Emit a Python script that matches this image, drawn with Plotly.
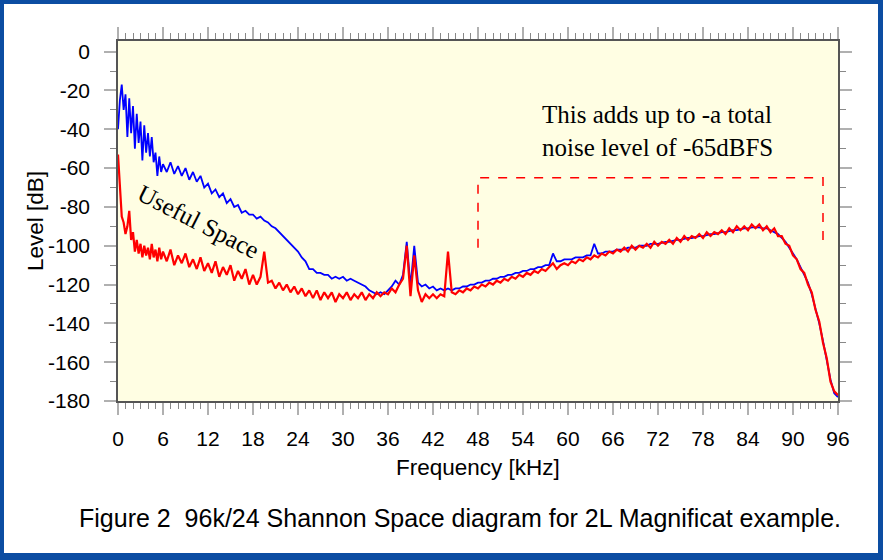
import numpy as np
import plotly.graph_objects as go

# ---------------- data ----------------
# frequency grid: 0.25 kHz steps from 0 to 5.75, then 0.5 kHz steps from 6 to 96
freq_fine = [i * 0.25 for i in range(24)]
freq_coarse = [6 + i * 0.5 for i in range(181)]
freq_khz = freq_fine + freq_coarse

blue_fine = [-40, -25, -17, -30, -22, -44, -24, -42, -28, -50, -32, -47,
             -36, -56, -38, -52, -42, -54, -44, -57, -52, -64, -54, -62]
blue_coarse = [
    -58, -62, -57, -63, -59, -64, -60, -66, -62, -67, -64, -70,
    -68, -73, -71, -75, -73, -78, -76, -80, -79, -83, -82, -84,
    -84, -86, -85, -87, -88, -90, -91, -93, -95, -97, -99, -101,
    -103, -106, -108, -112, -112, -114, -114, -115, -115, -117, -116, -117,
    -116, -118, -117, -118, -119, -120, -121, -123, -124, -125, -124, -125,
    -123, -121, -118, -120, -115, -98, -121, -100, -119, -121, -120, -122,
    -121, -123, -122, -123, -122, -123, -122, -122, -121, -121, -120, -120,
    -119, -119, -118, -118, -117, -117, -116, -116, -115, -115, -114, -114,
    -113, -113, -112, -112, -111, -111, -110, -110, -104, -108, -108, -107,
    -107, -107, -106, -106, -106, -105, -105, -99, -104, -104, -103, -103,
    -103, -102, -102, -102, -101, -101, -101, -100, -100, -100, -99, -99,
    -99, -98.5, -98, -98, -97.5, -97, -97, -96.5, -96, -96, -95.5, -95,
    -95, -94.5, -94, -94, -93.5, -93, -93, -92.5, -92, -92, -91.5, -91,
    -91, -90.5, -90.5, -90.5, -91, -91, -92, -93, -94, -96, -98, -101,
    -104, -107, -111, -115, -119, -125, -132, -140, -149, -159, -169, -176,
    -178]
blue_level = blue_fine + blue_coarse

red_fine = [-53, -72, -85, -88, -94, -90, -82, -97, -93, -103, -97, -104,
            -99, -106, -100, -105, -101, -107, -99, -106, -102, -108, -101, -107]
red_coarse = [
    -103, -108, -102, -110, -105, -109, -104, -111, -107, -112, -106, -113,
    -109, -114, -108, -116, -111, -115, -110, -118, -113, -117, -112, -120,
    -115, -120, -116, -103, -119, -118, -122, -119, -123, -120, -124, -121,
    -125, -122, -126, -123, -127, -123, -128, -124, -127, -124, -129, -125,
    -127, -124, -128, -125, -127, -124, -128, -125, -127, -124, -126, -124,
    -125, -122, -124, -120, -117, -100, -126, -105, -123, -129, -125, -127,
    -125, -127, -125, -126, -103, -124, -125, -123, -124, -122, -123, -121,
    -122, -120, -121, -119, -120, -118, -119, -117, -118, -116, -117, -115,
    -116, -114, -115, -113, -114, -112, -113, -111, -109, -112, -110, -109,
    -110, -108, -109, -107, -108, -106, -107, -105, -106, -104, -105, -103,
    -104, -102, -103, -101, -103, -100, -102, -100, -101, -99, -101, -98,
    -100, -98, -99, -97, -99, -96, -98, -95, -97, -95, -96, -94,
    -96, -93, -95, -93, -94, -92, -94, -91, -93, -90, -92, -90,
    -92, -89, -91, -89, -92, -90, -93, -91, -95, -95, -99, -100,
    -105, -107, -112, -114, -120, -124, -133, -139, -150, -158, -170, -175,
    -177]
red_level = red_fine + red_coarse

x_ticks = [0, 6, 12, 18, 24, 30, 36, 42, 48, 54, 60, 66, 72, 78, 84, 90, 96]
y_ticks = [0, -20, -40, -60, -80, -100, -120, -140, -160, -180]

bracket_x = [48, 48, 94, 94]
bracket_y = [-101, -65, -65, -101]

# ---------------- figure ----------------
SANS = "Liberation Sans, Arial, Helvetica, sans-serif"
SERIF = "Liberation Serif, Times New Roman, serif"

fig = go.Figure()
fig.add_trace(go.Scatter(x=freq_khz, y=blue_level, mode="lines",
                         line=dict(color="#0000FF", width=1.8), showlegend=False))
fig.add_trace(go.Scatter(x=freq_khz, y=red_level, mode="lines",
                         line=dict(color="#FF0000", width=2.2), showlegend=False))
fig.add_trace(go.Scatter(x=bracket_x, y=bracket_y, mode="lines",
                         line=dict(color="#FF0000", width=1.5, dash="dash"),
                         showlegend=False))

W, H = 883, 560
L, R, T, B = 118, 45, 41, 159
pw, ph = W - L - R, H - T - B

def px(xp):
    return (xp - L) / pw

def py(yp):
    return (H - B - yp) / ph

border = "#0C4DA2"
shapes = [
    dict(type="rect", xref="paper", yref="paper", x0=px(0), x1=px(W), y0=py(0), y1=py(4),
         fillcolor=border, line=dict(width=0), layer="above"),
    dict(type="rect", xref="paper", yref="paper", x0=px(0), x1=px(W), y0=py(553), y1=py(H),
         fillcolor=border, line=dict(width=0), layer="above"),
    dict(type="rect", xref="paper", yref="paper", x0=px(0), x1=px(4), y0=py(0), y1=py(H),
         fillcolor=border, line=dict(width=0), layer="above"),
    dict(type="rect", xref="paper", yref="paper", x0=px(878), x1=px(W), y0=py(0), y1=py(H),
         fillcolor=border, line=dict(width=0), layer="above"),
]

annotations = [
    dict(text="This adds up to -a total<br>noise level of -65dBFS", x=56.2, y=-41,
         xref="x", yref="y", xanchor="left", yanchor="middle", align="left",
         showarrow=False, font=dict(family=SERIF, size=25, color="black")),
    dict(text="Useful Space", x=10.7, y=-87.7, xref="x", yref="y",
         textangle=27, showarrow=False,
         font=dict(family=SERIF, size=25, color="black")),
    dict(text="Frequency [kHz]", x=0.5, y=py(467), xref="paper", yref="paper",
         xanchor="center", yanchor="middle", showarrow=False,
         font=dict(family=SANS, size=22.5, color="black")),
    dict(text="Level [dB]", x=px(35), y=0.5, xref="paper", yref="paper",
         xanchor="center", yanchor="middle", textangle=-90, showarrow=False,
         font=dict(family=SANS, size=22.5, color="black")),
    dict(text="Figure 2  96k/24 Shannon Space diagram for 2L Magnificat example.",
         x=px(460), y=py(518), xref="paper", yref="paper",
         xanchor="center", yanchor="middle", showarrow=False,
         font=dict(family=SANS, size=25, color="black")),
]

fig.update_layout(
    width=W, height=H,
    margin=dict(l=L, r=R, t=T, b=B, pad=0),
    paper_bgcolor="white",
    plot_bgcolor="#FFFEE3",
    shapes=shapes,
    annotations=annotations,
    xaxis=dict(range=[0, 96], tickvals=x_ticks, ticktext=[str(v) for v in x_ticks],
               ticks="outside", ticklen=12, tickwidth=2, tickcolor="#B0B0B0",
               showline=True, linecolor="#555555", linewidth=1.5, mirror="allticks",
               showgrid=False, zeroline=False, ticklabelstandoff=6,
               tickfont=dict(family=SANS, size=21, color="black"),
               minor=dict(dtick=1, tick0=0, ticks="outside", ticklen=6, tickwidth=1,
                          tickcolor="#888888", showgrid=False)),
    yaxis=dict(range=[-180, 5.5], tickvals=y_ticks, ticktext=[str(v) for v in y_ticks],
               ticks="outside", ticklen=12, tickwidth=2, tickcolor="#B0B0B0",
               showline=True, linecolor="#555555", linewidth=1.5, mirror="allticks",
               showgrid=False, zeroline=False, ticklabelstandoff=10,
               tickfont=dict(family=SANS, size=21, color="black"),
               minor=dict(dtick=10, tick0=0, ticks="outside", ticklen=6, tickwidth=1,
                          tickcolor="#888888", showgrid=False)),
)

fig.write_html("out.html", config={"displayModeBar": False},
               post_script="document.body.style.margin='0px';document.body.style.overflow='hidden';")
